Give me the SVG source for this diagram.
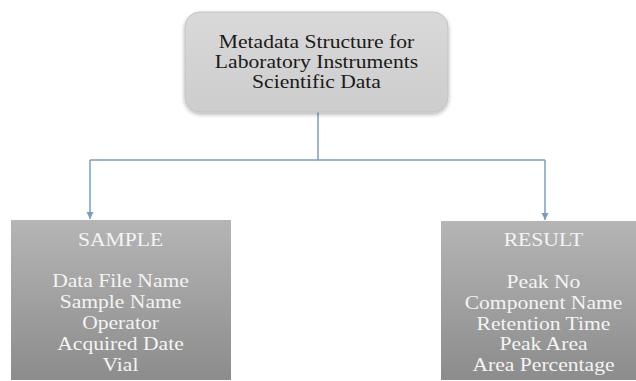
<svg xmlns="http://www.w3.org/2000/svg" width="636" height="381" viewBox="0 0 636 381">
  <defs>
    <style>
      .t { font-family: "Liberation Serif", "Times New Roman", serif; font-size: 18px; text-anchor: middle; }
      .dark { fill: #1a1a1a; }
      .light { fill: #f4f4f4; }
      .conn { fill: none; stroke: #7d9cbd; stroke-width: 1.5; }
    </style>
    <linearGradient id="gBox" x1="0" y1="0" x2="0" y2="1">
      <stop offset="0" stop-color="#b5b5b5"/>
      <stop offset="1" stop-color="#8c8c8c"/>
    </linearGradient>
    <linearGradient id="gTop" x1="0" y1="0" x2="0" y2="1">
      <stop offset="0" stop-color="#d9d9d9"/>
      <stop offset="1" stop-color="#cdcdcd"/>
    </linearGradient>
    <filter id="sh" x="-10%" y="-10%" width="120%" height="130%">
      <feGaussianBlur in="SourceAlpha" stdDeviation="2"/>
      <feOffset dy="2"/>
      <feComponentTransfer><feFuncA type="linear" slope="0.3"/></feComponentTransfer>
      <feMerge><feMergeNode/><feMergeNode in="SourceGraphic"/></feMerge>
    </filter>
    <marker id="arr" viewBox="0 0 10 10" refX="10" refY="5" markerWidth="5" markerHeight="5" orient="auto" markerUnits="strokeWidth">
      <path d="M0,0 L10,5 L0,10 z" fill="#7d9cbd"/>
    </marker>
  </defs>
  <rect width="636" height="381" fill="#ffffff"/>

  <g id="connectors">
    <path class="conn" d="M318,112 V160"/>
    <path class="conn" d="M90,160 H545"/>
    <path class="conn" d="M90,160 V219" marker-end="url(#arr)"/>
    <path class="conn" d="M545,160 V220" marker-end="url(#arr)"/>
  </g>

  <g id="node-root">
    <rect x="185" y="12" width="263" height="100" rx="15" ry="15" fill="url(#gTop)" stroke="#c2c2c2" stroke-width="1" filter="url(#sh)"/>
    <g transform="translate(316.5,0) scale(1.2,1)">
      <text class="t dark" x="0" y="48">Metadata Structure for</text>
      <text class="t dark" x="0" y="68">Laboratory Instruments</text>
      <text class="t dark" x="0" y="88">Scientific Data</text>
    </g>
  </g>

  <g id="node-sample">
    <rect x="11" y="220" width="220" height="160" fill="url(#gBox)"/>
    <g transform="translate(120.5,0) scale(1.2,1)">
      <text class="t light" x="0" y="246">SAMPLE</text>
      <text class="t light" x="0" y="287">Data File Name</text>
      <text class="t light" x="0" y="308">Sample Name</text>
      <text class="t light" x="0" y="329">Operator</text>
      <text class="t light" x="0" y="350">Acquired Date</text>
      <text class="t light" x="0" y="371">Vial</text>
    </g>
  </g>

  <g id="node-result">
    <rect x="441" y="221" width="205" height="159" fill="url(#gBox)"/>
    <g transform="translate(543.5,0) scale(1.2,1)">
      <text class="t light" x="0" y="246">RESULT</text>
      <text class="t light" x="0" y="288">Peak No</text>
      <text class="t light" x="0" y="309">Component Name</text>
      <text class="t light" x="0" y="330">Retention Time</text>
      <text class="t light" x="0" y="350">Peak Area</text>
      <text class="t light" x="0" y="371">Area Percentage</text>
    </g>
  </g>
</svg>
